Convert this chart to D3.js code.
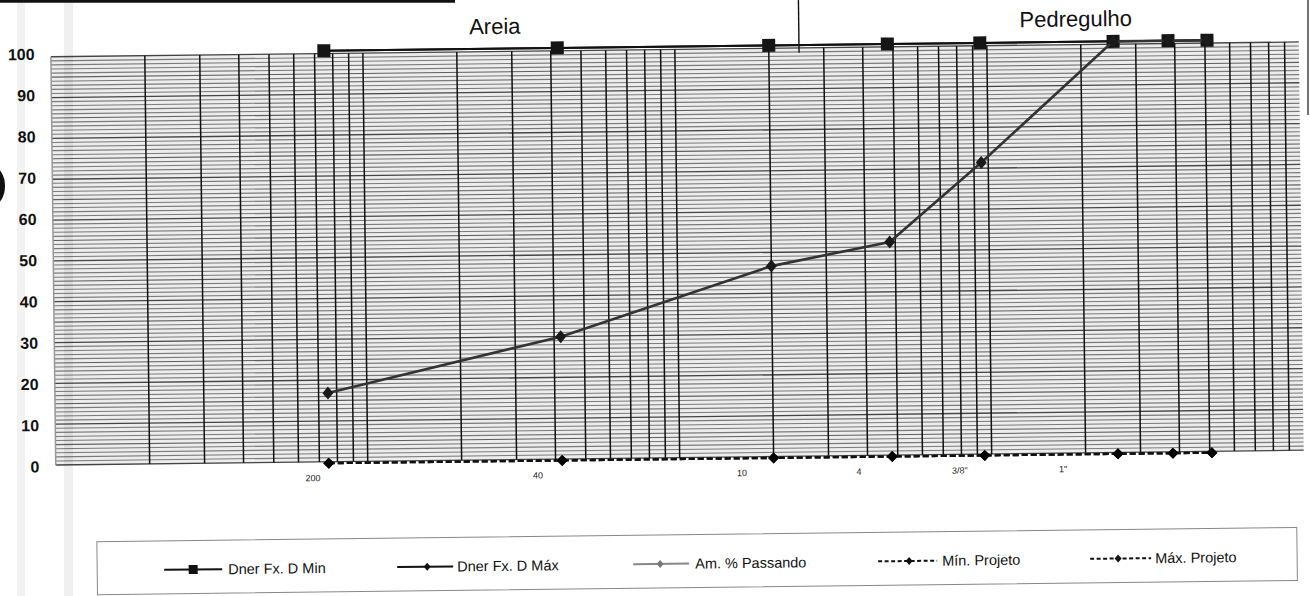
<!DOCTYPE html>
<html><head><meta charset="utf-8">
<script src="https://cdn.jsdelivr.net/npm/d3@7"></script>
<style>
html,body{margin:0;padding:0;background:#fff;}
svg{display:block;font-family:"Liberation Sans",Arial,Helvetica,sans-serif;}
</style>
</head><body>
<svg id="c" width="1310" height="596"></svg>
<script>
// ---------- data ----------
const sieves      = [0.075, 0.42, 2.0, 4.8, 9.5, 25.4, 38.1, 50.8];   // mm
const dnerMin     = [100, 100, 100, 100, 100, 100, 100, 100];
const dnerMax     = [100, 100, 100, 100, 100, 100, 100, 100];
const amPassando  = [17, 30, 46.5, 52, 71, 100, 100, 100];
const minProjeto  = [0, 0, 0, 0, 0, 0, 0, 0];
const maxProjeto  = [0, 0, 0, 0, 0, 0, 0, 0];
const xTickValues = [0.0667, 0.351, 1.58, 3.75, 7.9, 16.9];
const xTickLabels = ["200", "40", "10", "4", "3/8\"", "1\""];
const yTicks      = [0, 10, 20, 30, 40, 50, 60, 70, 80, 90, 100];
const seriesNames = ["Dner Fx. D Min", "Dner Fx. D Máx", "Am. % Passando", "Mín. Projeto", "Máx. Projeto"];
const regionLabels = ["Areia", "Pedregulho"];
const boundary = 2.5;

// ---------- layout ----------
const svg = d3.select("#c");
const W = 1310, H = 596;

// scan artifacts (outside rotated page)
svg.append("rect").attr("x", 17).attr("y", 0).attr("width", 8).attr("height", H).attr("fill", "#000").attr("opacity", 0.05);

const g = svg.append("g").attr("transform", "rotate(-0.68,655,298)");

const x = d3.scaleLog().domain([0.01, 100]).range([53.8, 1301.8]);
const y = d3.scaleLinear().domain([0, 100]).range([459.3, 46.8]);
const paper = d3.scaleLinear().domain([0, 100]).range([457.9, 49.6]);

// ---------- grid paper ----------
const grid = g.append("g");
grid.append("rect").attr("x", x(0.01)).attr("y", paper(100))
  .attr("width", x(100) - x(0.01)).attr("height", paper(0) - paper(100))
  .attr("fill", "#ededed");
const hLines = d3.range(0, 101);
grid.selectAll("line.h").data(hLines).join("line")
  .attr("x1", x(0.01)).attr("x2", x(100))
  .attr("y1", d => paper(d)).attr("y2", d => paper(d))
  .attr("stroke", d => d % 10 === 0 ? "#444" : (d % 5 === 0 ? "#5e5e5e" : "#7a7a7a"))
  .attr("stroke-width", d => d % 10 === 0 ? 1.3 : 1.1);

const vVals = [];
for (let e = -2; e <= 1; e++) for (let k = 1; k <= 9; k++) vVals.push(k * Math.pow(10, e));
grid.selectAll("line.v").data(vVals).join("line")
  .attr("x1", d => x(d)).attr("x2", d => x(d))
  .attr("y1", paper(100)).attr("y2", paper(0))
  .attr("stroke", d => d === 0.01 ? "#999" : "#111")
  .attr("stroke-width", 1.5);

// scan streak over grid
svg.append("rect").attr("x", 64).attr("y", 0).attr("width", 9).attr("height", H).attr("fill", "#000").attr("opacity", 0.06);

// boundary tick between Areia / Pedregulho
g.append("line").attr("x1", x(boundary)).attr("x2", x(boundary))
  .attr("y1", -6).attr("y2", 54.5).attr("stroke", "#111").attr("stroke-width", 1.4);

// region labels
g.append("text").attr("x", 498).attr("y", 32).attr("text-anchor", "middle")
  .attr("font-size", 22).attr("fill", "#111").text(regionLabels[0]);
g.append("text").attr("x", 1079).attr("y", 31.5).attr("text-anchor", "middle")
  .attr("font-size", 22).attr("fill", "#111").text(regionLabels[1]);

// y labels
g.selectAll("text.yl").data(yTicks).join("text")
  .attr("x", 37.5).attr("y", d => y(d)).attr("dy", "0.36em")
  .attr("text-anchor", "end").attr("font-size", 16).attr("font-weight", "bold")
  .attr("fill", "#111").text(d => d);

// x labels
g.selectAll("text.xl").data(xTickValues).join("text")
  .attr("x", d => x(d)).attr("y", 474).attr("dy", "0.35em")
  .attr("text-anchor", "middle").attr("font-size", 9).attr("fill", "#222")
  .text((d, i) => xTickLabels[i]);

// ---------- series ----------
const diamond = (w, h) => `M0,${-h}L${w},0L0,${h}L${-w},0Z`;
function series(vals, opts) {
  const pts = sieves.map((s, i) => [x(s), y(vals[i])]);
  const line = d3.line();
  g.append("path").attr("d", line(pts)).attr("fill", "none")
    .attr("stroke", opts.color).attr("stroke-width", opts.width)
    .attr("stroke-dasharray", opts.dash || null);
  g.append("g").selectAll("path").data(pts).join("path")
    .attr("transform", d => `translate(${d[0]},${d[1]})`)
    .attr("d", opts.marker).attr("fill", opts.mcolor);
}
const sq = s => `M${-s},${-s}H${s}V${s}H${-s}Z`;
series(dnerMax, {color: "#111", width: 2, marker: diamond(5, 6), mcolor: "#111"});
series(dnerMin, {color: "#111", width: 2, marker: sq(6.5), mcolor: "#151515"});
series(amPassando, {color: "#333", width: 2.6, marker: diamond(5.5, 6.5), mcolor: "#1a1a1a"});
series(maxProjeto, {color: "#111", width: 2.3, dash: "6,3", marker: diamond(5.5, 5.5), mcolor: "#000"});
series(minProjeto, {color: "#111", width: 2.3, dash: "6,3", marker: diamond(5.5, 5.5), mcolor: "#000"});

// ---------- legend ----------
const lg = g.append("g");
lg.append("rect").attr("x", 94).attr("y", 535).attr("width", 1200).attr("height", 53)
  .attr("fill", "none").attr("stroke", "#888").attr("stroke-width", 1);
const legendItems = [
  {x0: 161, x1: 219, mx: 190, tx: 225, color: "#111", w: 2, dash: null, marker: sq(4.5), mc: "#111"},
  {x0: 394, x1: 450, mx: 424, tx: 454, color: "#111", w: 2, dash: null, marker: diamond(3.5, 4), mc: "#111"},
  {x0: 630, x1: 686, mx: 657, tx: 692, color: "#888", w: 2, dash: null, marker: diamond(3.5, 4), mc: "#777"},
  {x0: 875, x1: 934, mx: 906, tx: 939, color: "#111", w: 2, dash: "4,2.5", marker: diamond(3.5, 4), mc: "#111"},
  {x0: 1087, x1: 1148, mx: 1115, tx: 1152, color: "#111", w: 2, dash: "4,2.5", marker: diamond(3.5, 4), mc: "#111"}
];
const ly = 564;
legendItems.forEach((it, i) => {
  lg.append("line").attr("x1", it.x0).attr("x2", it.x1).attr("y1", ly).attr("y2", ly)
    .attr("stroke", it.color).attr("stroke-width", it.w).attr("stroke-dasharray", it.dash);
  lg.append("path").attr("transform", `translate(${it.mx},${ly})`).attr("d", it.marker).attr("fill", it.mc);
  lg.append("text").attr("x", it.tx).attr("y", ly).attr("dy", "0.35em")
    .attr("font-size", 14.5).attr("fill", "#111").text(seriesNames[i]);
});

// ---------- scan edges ----------
svg.append("line").attr("x1", 0).attr("x2", 455).attr("y1", 1.2).attr("y2", 1.2)
  .attr("stroke", "#111").attr("stroke-width", 3);
svg.append("line").attr("x1", 1308).attr("x2", 1308).attr("y1", 0).attr("y2", 115)
  .attr("stroke", "#444").attr("stroke-width", 1.5);
svg.append("ellipse").attr("cx", -7).attr("cy", 186).attr("rx", 12).attr("ry", 19).attr("fill", "#111");
</script>
</body></html>
